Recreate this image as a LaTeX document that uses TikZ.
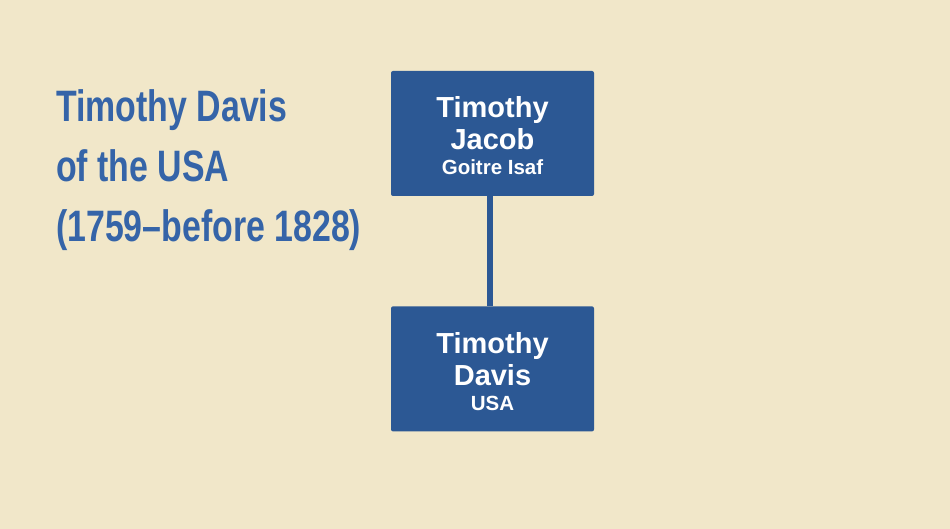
\documentclass[tikz,border=0pt]{standalone}
\usepackage{fontspec}
\setmainfont{Liberation Sans}
\newfontfamily\titlefont[FakeStretch=0.77]{Liberation Sans Bold}
\usetikzlibrary{positioning}
\definecolor{mbg}{HTML}{F1E7C9}
\definecolor{mbox}{HTML}{2C5894}
\definecolor{mtitle}{HTML}{3564A8}
\tikzset{
    person/.style = {rectangle, fill=mbox, rounded corners=2pt, minimum width=203pt,
                     minimum height=125pt, inner sep=0pt, align=center, text=white,
                     font=\bfseries\fontsize{29}{32}\selectfont},
    link/.style = {draw=mbox, line width=6pt},
    heading/.style = {anchor=north west, align=left, text=mtitle, inner sep=0pt,
                      font=\titlefont\fontsize{44}{60}\selectfont}
    }
\newcommand{\place}[1]{{\fontsize{20.5}{22}\selectfont #1}}
\begin{document}
\begin{tikzpicture}[x=1pt, y=1pt]
\fill [mbg] (0,0) rectangle (950,529);
\useasboundingbox (0,0) rectangle (950,529);
\node [heading] (title) at (56,440) {Timothy Davis\\of the USA\\(1759–before 1828)};
\node [person] (father) at (492.5,395.5) {\rule{0pt}{26pt}Timothy\\Jacob\\[-7pt]\place{Goitre Isaf}};
\node [person, below=110pt of father] (child) {\rule{0pt}{26pt}Timothy\\Davis\\[-7pt]\place{USA}};
\draw [link] ([xshift=-2.5pt]father.south) -- ([xshift=-2.5pt]child.north);
\end{tikzpicture}
\end{document}
